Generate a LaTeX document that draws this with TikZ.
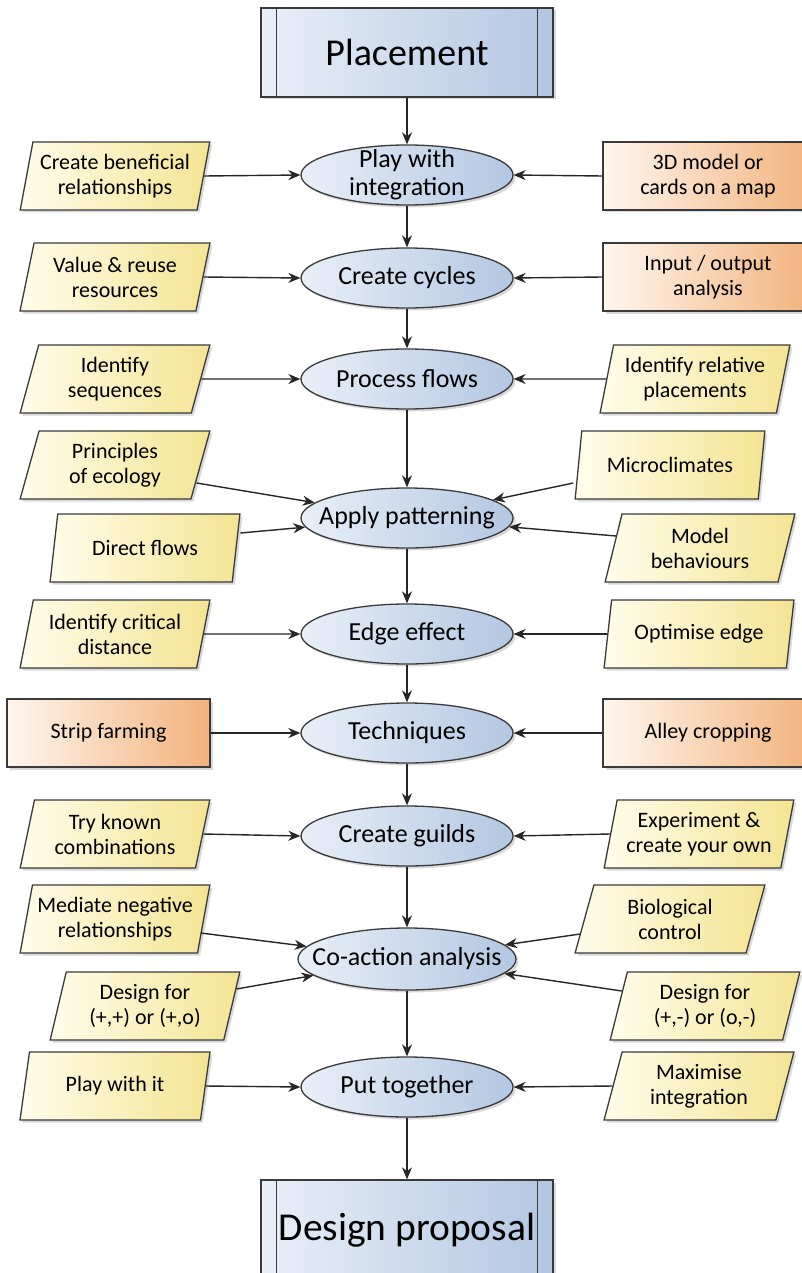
\documentclass[tikz,border=0pt]{standalone}
\usepackage{fontspec}
\setmainfont{Carlito}
\usetikzlibrary{shapes.geometric,arrows.meta,shadows}
\definecolor{ylL}{HTML}{FFFDEB}
\definecolor{ylR}{HTML}{F4E493}
\definecolor{orL}{HTML}{FFF6EE}
\definecolor{orR}{HTML}{F2B27C}
\definecolor{blL}{HTML}{E9EFF8}
\definecolor{blR}{HTML}{B3C7E2}
\definecolor{edgec}{HTML}{3A3A3A}
\begin{document}
\begin{tikzpicture}[x=1pt,y=-1pt,
  base/.style={draw=edgec,line width=1.3pt,align=center,inner sep=2pt,
    drop shadow={shadow xshift=2.5pt,shadow yshift=-2.5pt,opacity=0.3}},
  para/.style={base,trapezium,trapezium left angle=76,trapezium right angle=104,
    trapezium stretches=true,minimum width=190,minimum height=68,
    left color=ylL,right color=ylR,font=\fontsize{22}{25}\selectfont},
  orbox/.style={base,rectangle,minimum height=68,
    left color=orL,right color=orR,font=\fontsize{22}{25}\selectfont},
  proc/.style={base,ellipse,minimum width=212,minimum height=60,inner xsep=-40pt,inner ysep=-8pt,
    left color=blL,right color=blR,font=\fontsize{26}{28}\selectfont},
  term/.style={base,rectangle,minimum width=292,left color=blL,right color=blR},
  sideline/.style={draw=edgec,line width=1.3pt},
  arr/.style={draw=black!85,line width=1.4pt,-{Stealth[length=12pt,width=10pt]}}
]
\useasboundingbox (0,0) rectangle (802,1273);

% terminals
\node[term,minimum height=89,font=\fontsize{38}{42}\selectfont] (pl) at (407,52.5) {Placement};
\draw[sideline] ([xshift=16]pl.north west) -- ([xshift=16]pl.south west);
\draw[sideline] ([xshift=-16]pl.north east) -- ([xshift=-16]pl.south east);

\node[term,minimum height=100,font=\fontsize{39.5}{44}\selectfont] (dp) at (407,1230) {Design proposal};
\draw[sideline] ([xshift=16]dp.north west) -- ([xshift=16]dp.south west);
\draw[sideline] ([xshift=-16]dp.north east) -- ([xshift=-16]dp.south east);

% process ellipses
\node[proc] (e1) at (407,175) {Play with\\integration};
\node[proc] (e2) at (407,278) {Create cycles};
\node[proc] (e3) at (407,379) {Process flows};
\node[proc] (e4) at (407,518) {Apply patterning};
\node[proc] (e5) at (407,634) {Edge effect};
\node[proc] (e6) at (407,733) {Techniques};
\node[proc] (e7) at (407,836) {Create guilds};
\node[proc,minimum width=218,minimum height=62] (e8) at (407,959) {Co-action analysis};
\node[proc] (e9) at (407,1087) {Put together};

% left side
\node[para] (l1) at (115,176) {Create beneficial\\relationships};
\node[para] (l2) at (115,277) {Value \& reuse\\resources};
\node[para] (l3) at (115,379) {Identify\\sequences};
\node[para] (l4a) at (115,465) {Principles\\of ecology};
\node[para] (l4b) at (145,548) {Direct flows};
\node[para] (l5) at (115,634) {Identify critical\\distance};
\node[orbox,minimum width=203] (l6) at (108.5,733) {Strip farming};
\node[para] (l7) at (115,834) {Try known\\combinations};
\node[para] (l8a) at (115,919) {Mediate negative\\relationships};
\node[para] (l8b) at (145,1006) {Design for\\(+,+) or (+,o)};
\node[para] (l9) at (115,1086) {Play with it};

% right side
\node[orbox,minimum width=210] (r1) at (708,176) {3D model or\\cards on a map};
\node[orbox,minimum width=210] (r2) at (708,277) {Input / output\\analysis};
\node[para] (r3) at (695,379) {Identify relative\\placements};
\node[para] (r4a) at (670,465) {Microclimates};
\node[para] (r4b) at (700,548) {Model\\behaviours};
\node[para] (r5) at (699,634) {Optimise edge};
\node[orbox,minimum width=210] (r6) at (708,733) {Alley cropping};
\node[para] (r7) at (699,834) {Experiment \&\\create your own};
\node[para] (r8a) at (670,919) {Biological\\control};
\node[para] (r8b) at (705,1006) {Design for\\(+,-) or (o,-)};
\node[para] (r9) at (699,1086) {Maximise\\integration};

% main column arrows
\draw[arr] (pl.south) -- (e1.north);
\draw[arr] (e1.south) -- (e2.north);
\draw[arr] (e2.south) -- (e3.north);
\draw[arr] (e3.south) -- (e4.north);
\draw[arr] (e4.south) -- (e5.north);
\draw[arr] (e5.south) -- (e6.north);
\draw[arr] (e6.south) -- (e7.north);
\draw[arr] (e7.south) -- (e8.north);
\draw[arr] (e8.south) -- (e9.north);
\draw[arr] (e9.south) -- (dp.north);

% side arrows
\draw[arr] (l1.east) -- (e1.west);
\draw[arr] (r1.west) -- (e1.east);
\draw[arr] (l2.east) -- (e2.west);
\draw[arr] (r2.west) -- (e2.east);
\draw[arr] (l3.east) -- (e3.west);
\draw[arr] (r3.west) -- (e3.east);
\draw[arr] ([xshift=-4.5,yshift=-18]l4a.east) -- (e4);
\draw[arr] ([xshift=3.7,yshift=15]l4b.east) -- (e4);
\draw[arr] ([xshift=-4.5,yshift=-18]r4a.west) -- (e4);
\draw[arr] ([xshift=3,yshift=12]r4b.west) -- (e4);
\draw[arr] (l5.east) -- (e5.west);
\draw[arr] (r5.west) -- (e5.east);
\draw[arr] (l6.east) -- (e6.west);
\draw[arr] (r6.west) -- (e6.east);
\draw[arr] (l7.east) -- (e7.west);
\draw[arr] (r7.west) -- (e7.east);
\draw[arr] ([xshift=-3.5,yshift=-14]l8a.east) -- (e8);
\draw[arr] ([xshift=4,yshift=17]l8b.east) -- (e8);
\draw[arr] ([xshift=-3.7,yshift=-15]r8a.west) -- (e8);
\draw[arr] ([xshift=3.7,yshift=15]r8b.west) -- (e8);
\draw[arr] (l9.east) -- (e9.west);
\draw[arr] (r9.west) -- (e9.east);
\end{tikzpicture}
\end{document}
